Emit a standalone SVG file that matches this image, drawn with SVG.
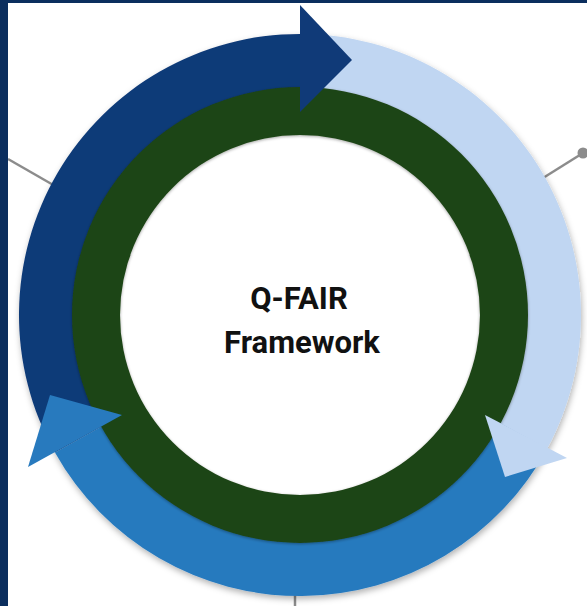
<svg xmlns="http://www.w3.org/2000/svg" width="587" height="606" viewBox="0 0 587 606">
  <defs>
    <style>
      .conn { stroke: #8c8c8c; stroke-width: 2.5; fill: none; }
      .navy { fill: #103a78; }
      .light { fill: #c0d6f2; }
      .medium { fill: #287abe; }
      .ring { fill: #1e4416; }
      .label { font-family: Roboto, "Liberation Sans", sans-serif; font-weight: 700; font-size: 31px; fill: #111111; text-anchor: middle; }
    </style>
    <filter id="shadow" x="-10%" y="-10%" width="120%" height="120%">
      <feDropShadow dx="1" dy="3" stdDeviation="3" flood-color="#000000" flood-opacity="0.3"/>
    </filter>
    <filter id="soft" x="-10%" y="-10%" width="120%" height="120%">
      <feDropShadow dx="0" dy="1" stdDeviation="1.5" flood-color="#000000" flood-opacity="0.35"/>
    </filter>
  </defs>

  <rect x="0" y="0" width="587" height="606" fill="#ffffff"/>

  <g id="connectors">
    <line class="conn" x1="8" y1="159" x2="62" y2="190"/>
    <line class="conn" x1="535" y1="183" x2="583" y2="153"/>
    <circle cx="583" cy="153" r="5.5" fill="#8c8c8c"/>
    <line class="conn" x1="295" y1="585" x2="295" y2="606"/>
  </g>

  <g id="bands" filter="url(#shadow)">
    <path class="navy" d="M54.94,452.52 A281,281 0 0,1 300,34 L300,93 A222,222 0 0,0 106.39,423.65 Z"/>
    <path class="light" d="M300,34 A281,281 0 0,1 547.17,448.64 L495.27,420.58 A222,222 0 0,0 300,93 Z"/>
    <path class="medium" d="M547.17,448.64 A281,281 0 0,1 54.94,452.52 L106.39,423.65 A222,222 0 0,0 495.27,420.58 Z"/>
  </g>

  <g id="ring" filter="url(#soft)">
    <path class="ring" fill-rule="evenodd" d="M72,315 A228,228 0 1,0 528,315 A228,228 0 1,0 72,315 Z M120,315 A180,180 0 1,1 480,315 A180,180 0 1,1 120,315 Z"/>
  </g>

  <g id="arrow-heads">
    <polygon id="head-navy" class="navy" points="300,5 352,60 300,112"/>
    <polygon id="head-light" class="light" points="485,415 567,458 505,477"/>
    <polygon id="head-medium" class="medium" points="122,415 50,395 28,467"/>
  </g>

  <g id="center-label">
    <text class="label" x="299" y="309">Q-FAIR</text>
    <text class="label" x="302" y="353">Framework</text>
  </g>

  <g id="frame">
    <rect x="0" y="0" width="8" height="606" fill="#0b2e5e"/>
    <rect x="0" y="0" width="587" height="3" fill="#0b2e5e"/>
  </g>
</svg>
